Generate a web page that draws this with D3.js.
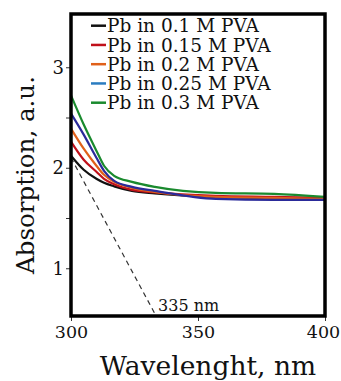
<!DOCTYPE html>
<html>
<head>
<meta charset="utf-8">
<script src="https://cdn.jsdelivr.net/npm/d3@7"></script>
<style>
  body { margin: 0; background: #fff; }
  text { font-family: 'DejaVu Serif', serif; fill: #111; }
</style>
</head>
<body>
<div id="chart-container"></div>
<script>
// Data

const wavelengths = [300, 305, 310, 313, 317, 324, 333, 357, 380, 400]
const seriesNames = [
  'Pb in 0.1 M PVA',
  'Pb in 0.15 M PVA',
  'Pb in 0.2 M PVA',
  'Pb in 0.25 M PVA',
  'Pb in 0.3 M PVA',
]
const pva01 = [2.12, 1.98, 1.89, 1.85, 1.815, 1.77, 1.745, 1.71, 1.70, 1.70]
const pva015 = [2.26, 2.08, 1.96, 1.89, 1.835, 1.78, 1.755, 1.72, 1.71, 1.70]
const pva02 = [2.39, 2.19, 2.02, 1.93, 1.86, 1.80, 1.76, 1.71, 1.70, 1.69]
const pva025 = [2.54, 2.33, 2.10, 1.97, 1.87, 1.81, 1.77, 1.69, 1.68, 1.68]
const pva03 = [2.72, 2.43, 2.17, 2.02, 1.92, 1.86, 1.81, 1.75, 1.74, 1.71]
const lineColors = ['#111111', '#c0101a', '#e0601a', '#2a2a9a', '#1a8a2e']
const legendColors = ['#111111', '#c0101a', '#e0601a', '#2a7cc0', '#1a8a2e']

// tangent line for the band edge
const tangentX = [300, 333.5]
const tangentY = [2.1, 0.525]
const tangentLabel = '335 nm'

const xTicks = [300, 350, 400]
const yTicks = [1, 1.5, 2, 2.5, 3]
const yLabelTicks = [1, 2, 3]

// Set dimensions

const W = 341
const H = 381
const margin = { top: 14, right: 16, bottom: 65, left: 71 }
const width = W - margin.left - margin.right
const height = H - margin.top - margin.bottom

const x = d3.scaleLinear().domain([300, 400]).range([0, width])
const y = d3.scaleLinear().domain([0.525, 3.53]).range([height, 0])

const svg = d3
  .select('#chart-container')
  .append('svg')
  .attr('width', W)
  .attr('height', H)
  .append('g')
  .attr('transform', `translate(${margin.left},${margin.top})`)

const allSeries = [pva01, pva015, pva02, pva025, pva03]

// Axes

const xAxis = svg
  .append('g')
  .attr('transform', `translate(0,${height})`)
  .call(d3.axisBottom(x).tickValues(xTicks).tickSize(5).tickPadding(5))
xAxis.select('.domain').remove()
xAxis.selectAll('line').attr('stroke', '#333')
xAxis
  .selectAll('text')
  .style('font-family', 'DejaVu Serif')
  .style('font-size', '17.5px')
  .attr('fill', '#111')
  .attr('dx', (d) => (d === 400 ? -2 : 0))

const yAxis = svg
  .append('g')
  .call(
    d3
      .axisLeft(y)
      .tickValues(yTicks)
      .tickSize(5)
      .tickPadding(2)
      .tickFormat((d) => (yLabelTicks.includes(d) ? d : ''))
  )
yAxis.select('.domain').remove()
yAxis.selectAll('line').attr('stroke', '#333')
yAxis
  .selectAll('text')
  .style('font-family', 'DejaVu Serif')
  .style('font-size', '18px')
  .attr('fill', '#111')

// Curves

const line = d3
  .line()
  .x((d, i) => x(wavelengths[i]))
  .y((d) => y(d))
  .curve(d3.curveMonotoneX)

svg
  .selectAll('.curve')
  .data(allSeries)
  .enter()
  .append('path')
  .attr('class', 'curve')
  .attr('fill', 'none')
  .attr('stroke', (d, i) => lineColors[i])
  .attr('stroke-width', 2.2)
  .attr('d', line)

// Dashed tangent

svg
  .append('line')
  .attr('x1', x(tangentX[0]))
  .attr('y1', y(tangentY[0]))
  .attr('x2', x(tangentX[1]))
  .attr('y2', y(tangentY[1]))
  .attr('stroke', '#333')
  .attr('stroke-width', 1.2)
  .attr('stroke-dasharray', '5,4')

svg
  .append('text')
  .attr('x', x(tangentX[1]) + 2)
  .attr('y', height - 5)
  .style('font-size', '16px')
  .text(tangentLabel)

// Frame

svg
  .append('rect')
  .attr('width', width)
  .attr('height', height)
  .attr('fill', 'none')
  .attr('stroke', '#000')
  .attr('stroke-width', 3.5)

// Legend

const legend = svg
  .selectAll('.legend')
  .data(seriesNames)
  .enter()
  .append('g')
  .attr('class', 'legend')
  .attr('transform', (d, i) => `translate(20,${11.7 + i * 19.25})`)

legend
  .append('line')
  .attr('x1', 0)
  .attr('x2', 15)
  .attr('stroke', (d, i) => legendColors[i])
  .attr('stroke-width', 2.5)

legend
  .append('text')
  .attr('x', 16)
  .attr('dy', '0.36em')
  .style('font-size', '18.5px')
  .text((d) => d)

// Axis titles

d3.select('svg')
  .append('text')
  .attr('x', 208)
  .attr('y', 375)
  .attr('text-anchor', 'middle')
  .style('font-size', '26.5px')
  .text('Wavelenght, nm')

d3.select('svg')
  .append('text')
  .attr('transform', 'translate(34,175) rotate(-90)')
  .attr('text-anchor', 'middle')
  .style('font-size', '24.5px')
  .text('Absorption, a.u.')
</script>
</body>
</html>
